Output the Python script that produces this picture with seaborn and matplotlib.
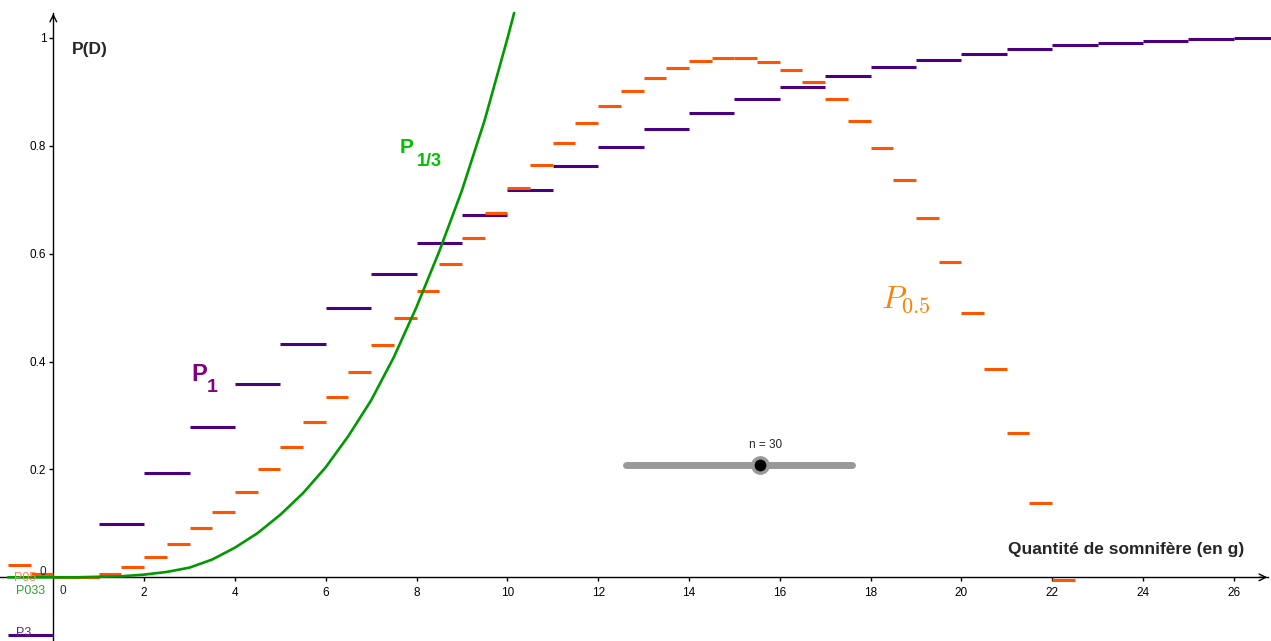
import numpy as np
import matplotlib
matplotlib.use("Agg")
import matplotlib.pyplot as plt
import seaborn as sns

# --- data ---
# P1 : steps of width 1, left edges -1 .. 26
p1_left = np.arange(-1, 27, 1.0)
p1_values = [-0.107, 0.0, 0.099, 0.193, 0.278, 0.359, 0.433, 0.500, 0.563, 0.620,
             0.672, 0.718, 0.762, 0.798, 0.831, 0.861, 0.887, 0.909, 0.930, 0.945,
             0.959, 0.970, 0.980, 0.986, 0.991, 0.994, 0.997, 0.999]

# P0.5 : steps of width 0.5, left edges -1 .. 22
p05_left = np.arange(-1, 22.5, 0.5)
p05_values = [0.022, 0.007, 0.0, 0.0, 0.007, 0.019, 0.037, 0.061, 0.091, 0.122,
              0.159, 0.200, 0.241, 0.287, 0.334, 0.381, 0.431, 0.481, 0.531, 0.581,
              0.629, 0.676, 0.722, 0.765, 0.805, 0.842, 0.874, 0.902, 0.926, 0.944,
              0.957, 0.963, 0.963, 0.956, 0.941, 0.918, 0.887, 0.846, 0.796, 0.737,
              0.666, 0.585, 0.490, 0.386, 0.268, 0.137, -0.005]

# P1/3 : smooth curve, points read along it
p13_x = [-1, 0, 0.5, 1, 1.5, 2, 2.5, 3, 3.5, 4, 4.5, 5, 5.5, 6, 6.5, 7,
         7.5, 8, 8.5, 9, 9.5, 10, 10.15]
p13_y = [0, 0, 0, 0.001, 0.002, 0.005, 0.010, 0.018, 0.033, 0.055, 0.082, 0.116,
         0.156, 0.204, 0.262, 0.328, 0.408, 0.501, 0.604, 0.717, 0.847, 0.998, 1.046]

x_ticks = list(range(2, 27, 2))
y_ticks = [0.2, 0.4, 0.6, 0.8, 1.0]
y_tick_labels = ["0.2", "0.4", "0.6", "0.8", "1"]

PURPLE = "#4b0082"
ORANGE = "#ff5500"
GREEN = "#009900"

sns.set_theme(style="white")
plt.rcParams["font.family"] = ["Liberation Sans", "DejaVu Sans"]

fig = plt.figure(figsize=(12.71, 6.41), dpi=100)
ax = fig.add_axes([0, 0, 1, 1])
ax.set_xlim(-1.174, 26.82)
ax.set_ylim(-0.118, 1.070)

# --- axes through the origin, GeoGebra style ---
for side in ["top", "right"]:
    ax.spines[side].set_visible(False)
ax.spines["left"].set_position(("data", 0))
ax.spines["bottom"].set_position(("data", 0))
ax.spines["left"].set_bounds(-0.118, 1.045)
ax.spines["bottom"].set_bounds(-1.174, 26.76)
for side in ["left", "bottom"]:
    ax.spines[side].set_color("black")
    ax.spines[side].set_linewidth(1.0)
ax.annotate("", xy=(26.8, 0), xytext=(26.5, 0),
            arrowprops=dict(arrowstyle="->", lw=1.0, color="black"))
ax.annotate("", xy=(0, 1.05), xytext=(0, 1.03),
            arrowprops=dict(arrowstyle="->", lw=1.0, color="black"))

ax.set_xticks(x_ticks)
ax.set_xticklabels([str(t) for t in x_ticks])
ax.set_yticks(y_ticks)
ax.set_yticklabels(y_tick_labels)
ax.tick_params(axis="x", direction="out", length=3, width=1, pad=4,
               labelsize=8.5, colors="black", bottom=True)
ax.tick_params(axis="y", direction="out", length=3, width=1, pad=2,
               labelsize=8.5, colors="black", left=True)
ax.text(0.2, -0.031, "0", fontsize=8.5, ha="center", va="baseline")
ax.text(-0.24, 0.005, "0", fontsize=8.5, ha="center", va="baseline", zorder=6)

# --- the three families ---
ax.hlines(p1_values, p1_left, p1_left + 1, colors=PURPLE, lw=2.2, zorder=3)
ax.hlines(p05_values, p05_left, p05_left + 0.5, colors=ORANGE, lw=2.2, zorder=4)
sns.lineplot(x=p13_x, y=p13_y, ax=ax, color=GREEN, lw=1.9, zorder=5,
             sort=False, estimator=None)

# --- labels ---
ax.text(0.40, 0.970, "P(D)", fontsize=12.5, fontweight="bold", va="baseline")
ax.text(26.23, 0.0426, "Quantité de somnifère (en g)", fontsize=12.5,
        fontweight="bold", ha="right", va="baseline")

ax.text(7.62, 0.787, "P", fontsize=15, fontweight="bold", color="#00c000", va="baseline")
ax.text(8.0, 0.763, "1/3", fontsize=13, fontweight="bold", color="#00c000", va="baseline")
ax.text(3.04, 0.363, "P", fontsize=17, fontweight="bold", color="#800080", va="baseline")
ax.text(3.39, 0.343, "1", fontsize=14, fontweight="bold", color="#800080", va="baseline")
ax.text(18.24, 0.50, r"$P_{\boldsymbol{0.5}}$", fontsize=23, color="#ff7f00",
        math_fontfamily="cm", va="baseline")

ax.text(-0.86, -0.0074, "P05", fontsize=9, color="#ff8050", va="baseline", zorder=6)
ax.text(-0.815, -0.0315, "P033", fontsize=9, color="#30a030", va="baseline", zorder=6)
ax.text(-0.815, -0.109, "P3", fontsize=9, color="#5a2890", va="baseline", zorder=6)

# --- slider n = 30 ---
ax.plot([12.62, 17.6], [0.209, 0.209], color="#999999", lw=5,
        solid_capstyle="round", zorder=6)
ax.plot([15.57], [0.209], "o", ms=11, mfc="black", mec="#999999", mew=2.5, zorder=7)
ax.text(15.68, 0.239, "n = 30", fontsize=8.5, ha="center", va="baseline")

fig.savefig("out.png", dpi=100)
